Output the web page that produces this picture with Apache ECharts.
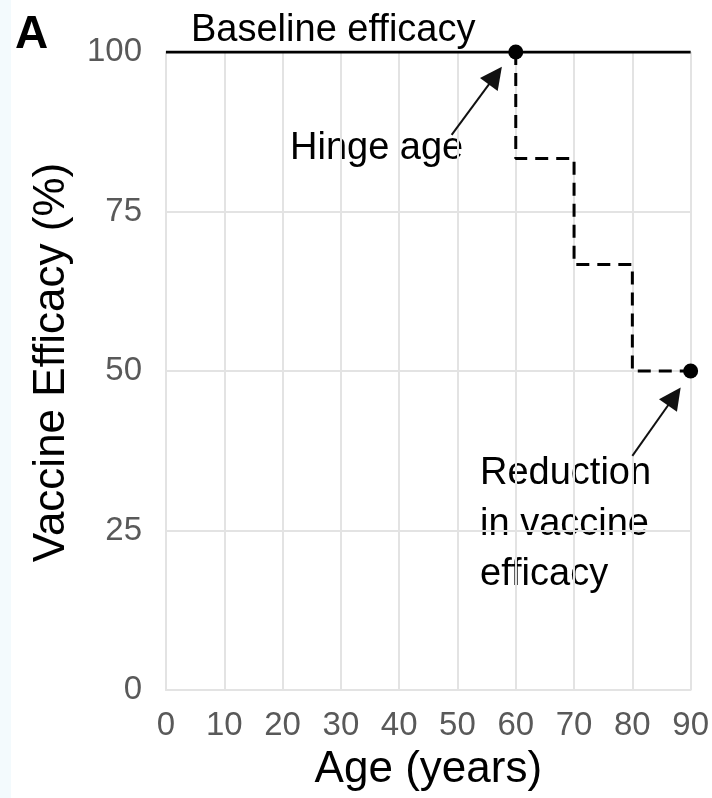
<!DOCTYPE html>
<html>
<head>
<meta charset="utf-8">
<script src="https://cdn.jsdelivr.net/npm/echarts@6/dist/echarts.min.js"></script>
<style>
  html, body { margin: 0; padding: 0; background: #ffffff; }
  #chart { width: 712px; height: 798px; }
</style>
</head>
<body>
<div id="chart"></div>
<script>
// Axis ticks
const ageTicks = [0, 10, 20, 30, 40, 50, 60, 70, 80, 90];
const efficacyTicks = [0, 25, 50, 75, 100];

// Baseline efficacy (solid line across all ages)
const baselineAges = [0, 90];
const baselineEfficacy = [100, 100];

// Stepwise decline after the hinge age (dashed)
const stepAges = [60, 70, 80, 90];
const stepEfficacy = [100, 83.3, 66.7, 50];

// Highlighted points: hinge age and final reduced efficacy
const markerAges = [60, 90];
const markerEfficacy = [100, 50];

// Annotation arrows, [tail, head] in data units
const arrowHinge = [[49.0, 87.0], [56.5, 96.3]];
const arrowReduction = [[80.0, 36.7], [87.2, 46.0]];

const FONT = 'Liberation Sans, Arial, sans-serif';

const chart = echarts.init(document.getElementById('chart'), null, { renderer: 'canvas' });

const zip = (xs, ys) => xs.map((x, i) => [x, ys[i]]);

chart.setOption({
  animation: false,
  backgroundColor: '#ffffff',
  grid: { left: 166, right: 21, top: 52, bottom: 108, containLabel: false },
  xAxis: {
    type: 'value',
    min: ageTicks[0],
    max: ageTicks[ageTicks.length - 1],
    interval: 10,
    name: 'Age (years)',
    nameLocation: 'middle',
    nameGap: 58,
    nameTextStyle: { fontFamily: FONT, fontSize: 44, color: '#000' },
    axisLine: { show: true, lineStyle: { color: '#e3e3e3', width: 2 } },
    axisTick: { show: false },
    axisLabel: { fontFamily: FONT, fontSize: 33, color: '#595959', margin: 19 },
    splitLine: { show: true, lineStyle: { color: '#e3e3e3', width: 2 } }
  },
  yAxis: {
    type: 'value',
    min: efficacyTicks[0],
    max: efficacyTicks[efficacyTicks.length - 1],
    interval: 25,
    name: 'Vaccine Efficacy (%)',
    nameLocation: 'middle',
    nameGap: 92,
    nameTextStyle: { fontFamily: FONT, fontSize: 44, color: '#000', padding: [0, 0, 0, 17] },
    axisLine: { show: true, lineStyle: { color: '#e3e3e3', width: 2 } },
    axisTick: { show: false },
    axisLabel: { fontFamily: FONT, fontSize: 33, color: '#595959', margin: 24 },
    splitLine: { show: true, lineStyle: { color: '#e3e3e3', width: 2 } }
  },
  series: [
    {
      type: 'line',
      data: zip(baselineAges, baselineEfficacy),
      showSymbol: false,
      lineStyle: { color: '#000', width: 3 },
      z: 3
    },
    {
      type: 'line',
      data: zip(stepAges, stepEfficacy),
      step: 'start',
      showSymbol: false,
      lineStyle: { color: '#000', width: 3, type: [13, 8] },
      z: 3
    },
    {
      type: 'scatter',
      data: zip(markerAges, markerEfficacy),
      symbol: 'circle',
      symbolSize: 15,
      itemStyle: { color: '#000', opacity: 1 },
      z: 5
    },
    {
      type: 'lines',
      coordinateSystem: 'cartesian2d',
      data: [{ coords: arrowHinge }, { coords: arrowReduction }],
      symbol: ['none', 'triangle'],
      symbolSize: 22,
      lineStyle: { color: '#111', width: 2, opacity: 1, curveness: 0 },
      z: 4
    }
  ],
  graphic: [
    { type: 'rect', left: 0, top: 0, shape: { width: 11, height: 798 }, style: { fill: '#f3fafd' }, silent: true },
    { type: 'text', x: 15, y: 35, style: { text: 'A', font: 'bold 46px ' + FONT, fill: '#000', textVerticalAlign: 'middle' } },
    { type: 'text', x: 191, y: 31, style: { text: 'Baseline efficacy', font: '38px ' + FONT, fill: '#000', textVerticalAlign: 'middle' } },
    { type: 'text', x: 290, y: 149, style: { text: 'Hinge age', font: '38px ' + FONT, fill: '#000', textVerticalAlign: 'middle' } },
    { type: 'text', x: 480, y: 474, style: { text: 'Reduction', font: '38px ' + FONT, fill: '#000', textVerticalAlign: 'middle' } },
    { type: 'text', x: 480, y: 525, style: { text: 'in vaccine', font: '38px ' + FONT, fill: '#000', textVerticalAlign: 'middle' } },
    { type: 'text', x: 480, y: 575, style: { text: 'efficacy', font: '38px ' + FONT, fill: '#000', textVerticalAlign: 'middle' } }
  ]
});
</script>
</body>
</html>
